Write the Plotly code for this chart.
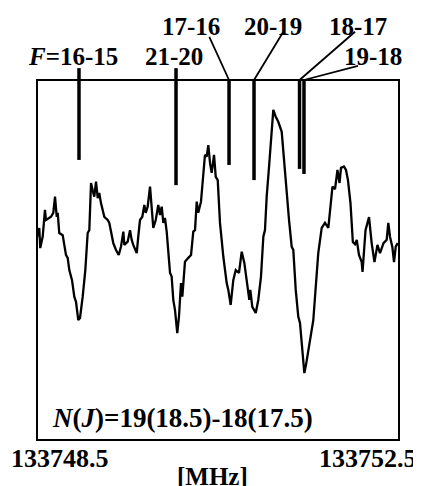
import plotly.graph_objects as go

# ---------------- data ----------------
F_START = 133748.5
F_END = 133752.5

# spectrum: frequency offsets from 133748.5 MHz and relative intensity (box = 0..100)
freq_offset = [0.008, 0.025, 0.036, 0.063, 0.088, 0.099, 0.155, 0.180, 0.199, 0.218, 0.229, 0.246, 0.284, 0.320,
               0.339, 0.357, 0.387, 0.412, 0.431, 0.456, 0.475, 0.505, 0.534, 0.560, 0.578, 0.597, 0.615, 0.633,
               0.652, 0.671, 0.688, 0.707, 0.744, 0.781, 0.799, 0.818, 0.843, 0.873, 0.903, 0.928, 0.954, 0.965,
               1.002, 1.028, 1.046, 1.064, 1.102, 1.119, 1.138, 1.164, 1.186, 1.201, 1.223, 1.249, 1.267, 1.285,
               1.312, 1.340, 1.359, 1.378, 1.396, 1.414, 1.433, 1.451, 1.470, 1.488, 1.506, 1.525, 1.550, 1.569,
               1.591, 1.606, 1.635, 1.672, 1.702, 1.727, 1.746, 1.765, 1.782, 1.812, 1.838, 1.856, 1.875, 1.893,
               1.912, 1.930, 1.956, 1.975, 1.997, 2.022, 2.059, 2.096, 2.114, 2.140, 2.169, 2.196, 2.232, 2.262,
               2.291, 2.328, 2.346, 2.357, 2.379, 2.417, 2.445, 2.475, 2.501, 2.519, 2.538, 2.564, 2.586, 2.611,
               2.638, 2.666, 2.704, 2.733, 2.759, 2.785, 2.814, 2.832, 2.859, 2.887, 2.906, 2.931, 2.954, 2.972,
               2.998, 3.024, 3.053, 3.072, 3.108, 3.146, 3.182, 3.219, 3.265, 3.293, 3.320, 3.343, 3.359, 3.392,
               3.414, 3.436, 3.464, 3.490, 3.514, 3.533, 3.558, 3.588, 3.597, 3.630, 3.669, 3.698, 3.729, 3.762,
               3.790, 3.829, 3.864, 3.882, 3.901, 3.926, 3.945, 3.964, 3.986]
intensity = [56.5, 58.9, 53.3, 56.5, 63.9, 61.1, 62.0, 63.1, 67.6, 62.0, 63.1, 57.5, 56.9, 51.4,
             50.6, 47.2, 44.4, 39.8, 38.4, 33.3, 33.9, 39.8, 47.2, 57.5, 58.3, 71.4, 69.4, 67.6,
             71.8, 67.2, 68.6, 65.8, 62.0, 61.1, 60.3, 57.5, 54.7, 52.8, 51.4, 53.7, 57.9, 54.2,
             55.1, 58.3, 55.6, 54.2, 51.9, 56.5, 61.1, 62.0, 65.3, 63.1, 64.8, 70.4, 64.8, 58.9,
             61.1, 65.3, 62.5, 64.8, 60.3, 61.7, 57.9, 50.9, 46.4, 45.4, 38.9, 36.1, 29.7, 34.3,
             43.6, 39.8, 49.5, 50.6, 51.4, 57.9, 58.3, 66.2, 63.1, 66.2, 74.2, 79.2, 78.7, 81.9,
             76.9, 74.2, 79.2, 73.1, 72.2, 60.3, 50.9, 43.6, 41.7, 37.5, 44.4, 47.2, 46.4, 52.3,
             49.2, 42.6, 38.9, 41.7, 37.0, 35.3, 38.9, 45.4, 56.5, 58.3, 67.6, 75.9, 84.3, 91.7,
             89.8, 88.4, 85.6, 75.9, 67.6, 61.1, 53.7, 52.8, 41.7, 34.3, 32.5, 24.2, 18.6, 20.8,
             25.0, 29.7, 33.3, 39.8, 51.9, 58.9, 60.3, 58.9, 70.4, 69.7, 75.0, 71.4, 75.6, 76.0,
             75.0, 72.2, 65.8, 55.0, 54.4, 55.6, 51.4, 49.4, 46.7, 58.3, 61.9, 54.7, 49.4, 54.2,
             51.9, 54.7, 55.6, 60.3, 56.4, 53.7, 49.4, 53.7, 54.7]

# hyperfine components (stick spectrum hanging from the top of the box)
stick_labels = ["<i>F</i>=16-15", "21-20", "17-16", "20-19", "18-17", "19-18"]
stick_freq = [133748.964, 133750.036, 133750.622, 133750.898, 133751.401, 133751.450]
stick_top = [103.3, 103.3, 100.0, 100.0, 100.0, 100.0]
stick_bottom = [77.8, 70.8, 76.4, 72.2, 75.3, 73.9]

# label positions (frequency, intensity units) and leader-line start points
label_freq = [133748.902, 133750.014, 133750.202, 133751.108, 133752.047, 133752.213]
label_level = [106.4, 106.4, 115.0, 115.0, 115.0, 106.4]
leader_freq = [None, None, 133750.404, 133751.222, 133752.014, 133752.047]
leader_level = [None, None, 112.0, 113.4, 113.4, 103.9]

tick_text = ["133748.5", "133752.5"]
axis_title = "[MHz]"
transition = "<i>N</i>(<i>J</i>)=19(18.5)-18(17.5)"

# ---------------- figure ----------------
freq = [F_START + d for d in freq_offset]

PAGE_MARGIN = 8                     # default body margin of the html page
W, H = 421 - PAGE_MARGIN, 486 - PAGE_MARGIN
PX_PER_MHZ = 90.5
PX_PER_UNIT = 3.6
BOX_L, BOX_B = 37 - PAGE_MARGIN, 440 - PAGE_MARGIN
x_range = [F_START - BOX_L / PX_PER_MHZ, F_START + (W - BOX_L) / PX_PER_MHZ]
y_range = [-(H - BOX_B) / PX_PER_UNIT, BOX_B / PX_PER_UNIT]

FONT = "Liberation Serif"
fig = go.Figure()

# box
fig.add_shape(type="rect", xref="x", yref="y", x0=F_START, x1=F_END, y0=0, y1=100,
              line=dict(color="black", width=2), fillcolor="rgba(0,0,0,0)", layer="below")

# spectrum
fig.add_trace(go.Scatter(x=freq, y=intensity, mode="lines",
                         line=dict(color="black", width=2.3), hoverinfo="skip", showlegend=False))

# sticks
sx, sy = [], []
for f, t, b in zip(stick_freq, stick_top, stick_bottom):
    sx += [f, f, None]
    sy += [t, b, None]
fig.add_trace(go.Scatter(x=sx, y=sy, mode="lines", line=dict(color="black", width=3.5),
                         hoverinfo="skip", showlegend=False))

# leader lines
lx, ly = [], []
for f, lf, ll in zip(stick_freq, leader_freq, leader_level):
    if lf is None:
        continue
    lx += [lf, f, None]
    ly += [ll, 100.0, None]
fig.add_trace(go.Scatter(x=lx, y=ly, mode="lines", line=dict(color="black", width=1.8),
                         hoverinfo="skip", showlegend=False))

bold = dict(family=FONT, size=25, color="black")
for txt, f, lev in zip(stick_labels, label_freq, label_level):
    fig.add_annotation(x=f, y=lev, xref="x", yref="y", text=f"<b>{txt}</b>", showarrow=False,
                       xanchor="center", yanchor="middle", font=bold)

fig.add_annotation(x=F_START, y=-5.1, xref="x", yref="y", text=f"<b>{tick_text[0]}</b>",
                   showarrow=False, xanchor="left", xshift=-28, yanchor="middle",
                   font=dict(family=FONT, size=26, color="black"))
fig.add_annotation(x=F_END, y=-5.1, xref="x", yref="y", text=f"<b>{tick_text[1]}</b>",
                   showarrow=False, xanchor="right", xshift=20, yanchor="middle",
                   font=dict(family=FONT, size=26, color="black"))
fig.add_annotation(x=(F_START + F_END) / 2, y=-10.2, xref="x", yref="y", text=f"<b>{axis_title}</b>",
                   showarrow=False, xanchor="center", xshift=-6, yanchor="middle", font=bold)
fig.add_annotation(x=F_START, y=6.25, xref="x", yref="y", text=f"<b>{transition}</b>",
                   showarrow=False, xanchor="left", xshift=13, yanchor="middle",
                   font=dict(family=FONT, size=27, color="black"))

fig.update_xaxes(range=x_range, visible=False, fixedrange=True)
fig.update_yaxes(range=y_range, visible=False, fixedrange=True)
fig.update_layout(width=W, height=H, margin=dict(l=0, r=0, t=0, b=0),
                  plot_bgcolor="white", paper_bgcolor="white", showlegend=False)

fig.write_html("out.html")
